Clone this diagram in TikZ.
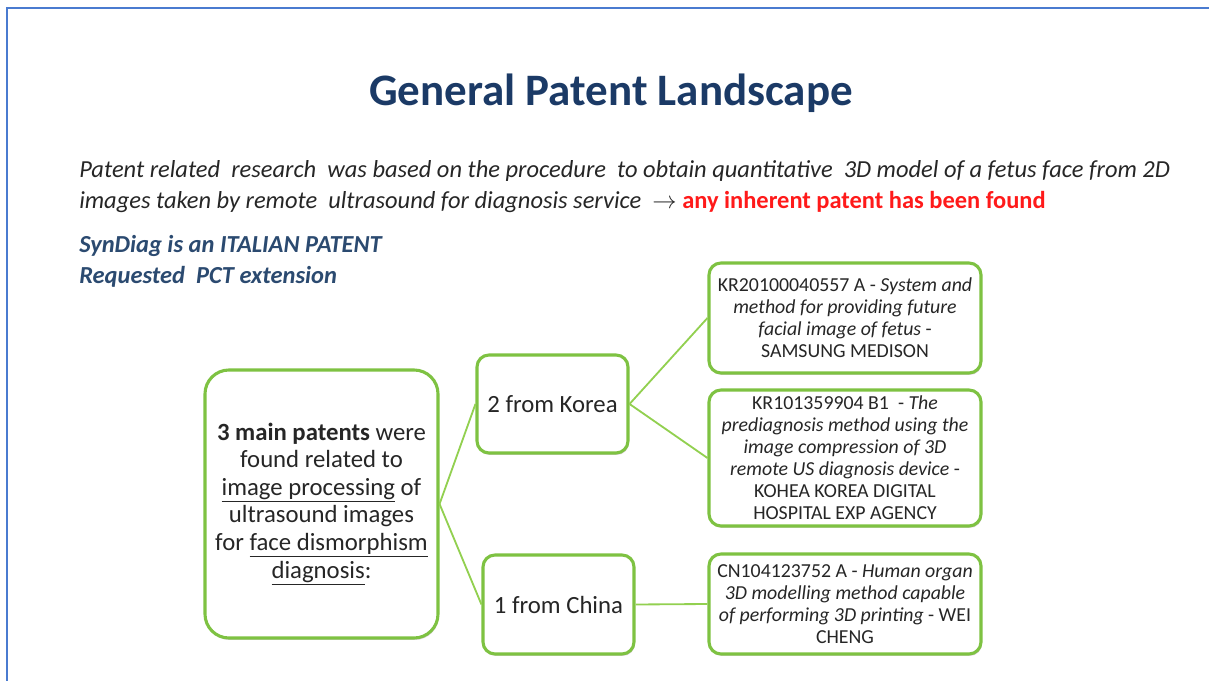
\documentclass[tikz,border=0pt]{standalone}
\usepackage{fontspec}
\setmainfont{Carlito}
\usetikzlibrary{shadows}
\definecolor{frameblue}{HTML}{4A7BD0}
\definecolor{titleblue}{HTML}{1B3A66}
\definecolor{syndiagblue}{HTML}{2B4A70}
\definecolor{bodygray}{HTML}{262626}
\definecolor{boxgreen}{HTML}{7EC242}
\definecolor{linkgreen}{HTML}{92D050}
\definecolor{foundred}{HTML}{FF1A1A}
\newcommand{\introfont}{\fontsize{17.4}{20}\selectfont}

\begin{document}
\begin{tikzpicture}[x=0.025cm, y=-0.025cm,
  every node/.style={inner sep=0pt, text=bodygray},
  greenbox/.style={draw=boxgreen, line width=2.2pt, fill=white, rounded corners=8.5pt,
    align=center, drop shadow={shadow xshift=0.6pt, shadow yshift=-1.4pt, opacity=0.25, fill=violet!40!gray}},
  leaf/.style={greenbox, minimum width=272*0.025cm, font=\fontsize{14.1}{15.6}\selectfont},
  country/.style={greenbox, minimum width=151*0.025cm, minimum height=98*0.025cm, font=\fontsize{17.6}{20}\selectfont},
  intro/.style={anchor=base west, font=\introfont\itshape},
  syndiag/.style={anchor=base west, font=\introfont\bfseries\itshape, text=syndiagblue},
  link/.style={draw=linkgreen, line width=1.3pt}]
  \useasboundingbox (0,0) rectangle (1209,681);
  % frame of the slide
  \draw[frameblue, line width=1.4pt] (1209,8) -- (7,8) -- (7,681);

  \node[font=\fontsize{32}{36}\selectfont\bfseries, text=titleblue] (title) at (611,93) {General Patent Landscape};

  \node[intro] (intro1) at (79,178)
    {Patent related\ \ research\ \ was based on the procedure\ \ to obtain quantitative\ \ 3D model of a fetus face from 2D};
  \node[intro] (intro2) at (79,209)
    {images taken by remote\ \ ultrasound for diagnosis service\ \ \upshape$\rightarrow$ \textcolor{foundred}{\bfseries any inherent patent has been found}};
  \node[syndiag] (syndiag) at (79,253) {SynDiag is an ITALIAN PATENT};
  \node[syndiag] (pct) at (79,284) {Requested\ \ PCT extension};

  \node[greenbox, rounded corners=17pt, minimum width=233*0.025cm, minimum height=268*0.025cm,
    font=\fontsize{17.6}{19.6}\selectfont] (main) at (321.5,504)
    {\textbf{3 main\ patents} were\\ found related to\\ \underline{image\ processing} of\\ ultrasound\ images\\ for \underline{face dismorphism}\\ \underline{diagnosis}:};

  \node[country] (korea) at (552.5,404) {2 from Korea};
  \node[country, minimum height=99*0.025cm] (china) at (558.5,604.5) {1 from China};

  \node[leaf, minimum height=110*0.025cm] (kr1) at (845,318)
    {KR20100040557 A - \textit{System and}\\ \textit{method for providing future}\\ \textit{facial image of fetus} -\\ SAMSUNG MEDISON};
  \node[leaf, minimum height=136*0.025cm] (kr2) at (845,458)
    {KR101359904 B1\ \ - \textit{The}\\ \textit{prediagnosis method using the}\\ \textit{image compression of 3D}\\ \textit{remote US diagnosis device} -\\ KOHEA KOREA DIGITAL\\ HOSPITAL EXP AGENCY};
  \node[leaf, minimum height=100*0.025cm] (cn) at (845,604)
    {CN104123752 A - \textit{Human organ}\\ \textit{3D modelling method capable}\\ \textit{of performing 3D printing} - WEI\\ CHENG};

  \draw[link] (main.east) -- (korea.west);
  \draw[link] (main.east) -- (china.west);
  \draw[link] (korea.east) -- (kr1.west);
  \draw[link] (korea.east) -- (kr2.west);
  \draw[link] (china.east) -- (cn.west);
\end{tikzpicture}
\end{document}
